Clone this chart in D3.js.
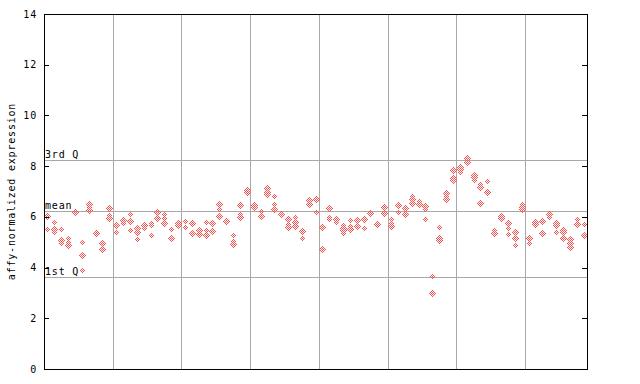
<!DOCTYPE html>
<html>
<head>
<meta charset="utf-8">
<script src="https://cdn.jsdelivr.net/npm/d3@7"></script>
<style>
  body { margin: 0; background: #fff; }
  text { font-family: "DejaVu Sans Mono", monospace; font-size: 10px; letter-spacing: 0.8px; }
</style>
</head>
<body>
<svg id="chart" width="640" height="384"></svg>
<script>
// replicate values per sample, one array per group (groups are split by the grid lines)
var group1 = [[6.05, 5.98, 5.52], [5.78, 5.52, 5.41], [5.52, 5.09, 4.98], [5.15, 5.02, 4.89], [6.21, 6.17],
  [5.0, 4.5, 3.89], [6.51, 6.38, 6.28], [5.35, 5.31], [4.96, 4.92, 4.73], [6.34, 6.07, 5.97]];
var group2 = [[5.7, 5.66, 5.39], [5.88, 5.74], [6.1, 5.84, 5.48], [5.57, 5.39, 5.13], [5.68, 5.64, 5.56],
  [5.75, 5.66, 5.29], [6.2, 5.95, 5.91], [6.1, 5.95, 5.75], [5.52, 5.18, 5.14], [5.75, 5.68, 5.64]];
var group3 = [[5.84, 5.59], [5.74, 5.4, 5.36], [5.53, 5.49, 5.33], [5.78, 5.48, 5.27], [5.79, 5.75, 5.43],
  [6.51, 6.3, 6.02], [5.89, 5.85], [5.27, 5.05, 4.94], [6.47, 6.11, 6.01], [7.1, 7.06, 6.99]];
var group4 = [[6.47, 6.38], [6.23, 6.05, 6.01], [7.12, 6.99, 6.89], [6.81, 6.49, 6.3], [6.1],
  [5.9, 5.7, 5.59], [5.98, 5.79, 5.75, 5.65], [5.44, 5.4, 5.15], [6.66, 6.49, 6.45], [6.72, 6.68, 6.18]];
var group5 = [[5.59, 4.78, 4.72], [6.34, 6.01, 5.92], [5.92, 5.88, 5.79], [5.68, 5.57, 5.47, 5.35], [5.86, 5.63, 5.52],
  [5.9, 5.86, 5.64], [5.95, 5.91, 5.55], [6.18, 6.14], [5.76, 5.72], [6.38, 6.21, 6.17]];
var group6 = [[5.9, 5.77, 5.64], [6.46, 6.42, 6.2], [6.38, 6.34, 6.11], [6.82, 6.69, 6.56], [6.64, 6.53, 6.49],
  [6.43, 6.31, 5.9], [3.67, 2.98], [5.61, 5.2, 5.16, 5.08], [6.95, 6.82, 6.69], [7.85, 7.52, 7.46]];
var group7 = [[7.98, 7.89, 7.78], [8.37, 8.33, 8.18], [7.65, 7.56, 7.47], [7.3, 7.22, 7.18, 6.53], [7.41, 6.97, 6.93],
  [5.47, 5.37, 5.33], [6.03, 5.94], [5.74, 5.55, 5.31], [5.39, 5.15, 4.89], [6.49, 6.4, 6.31]];
var group8 = [[5.2, 5.16, 4.96], [5.78, 5.7, 5.66], [5.84, 5.35], [6.1, 6.01], [5.77, 5.7, 5.66, 5.39],
  [5.48, 5.39, 5.15], [5.13, 4.96, 4.84, 4.8], [5.92, 5.7, 5.66], [5.72, 5.28]];

var refNames = ["3rd Q", "mean", "1st Q"];
var refValues = [8.23, 6.23, 3.62];
var yTicks = [0, 2, 4, 6, 8, 10, 12, 14];

var groups = [group1, group2, group3, group4, group5, group6, group7, group8];
var samples = [].concat.apply([], groups);
var points = [];
samples.forEach(function (vals, i) {
  vals.forEach(function (v) { points.push({ i: i, v: v }); });
});

var svg = d3.select("#chart");
var plotL = 44, plotR = 587, plotT = 14, plotB = 369;
var red = "#ff5050", grid = "#a8a8a8";

var x = d3.scaleLinear().domain([0, samples.length]).range([plotL, plotR]);
var y = d3.scaleLinear().domain([0, 14]).range([plotB, plotT]);

// checker pattern for the dithered diamonds
var pat = svg.append("defs").append("pattern")
  .attr("id", "chk").attr("width", 2).attr("height", 2)
  .attr("patternUnits", "userSpaceOnUse");
pat.append("rect").attr("x", 0).attr("y", 0).attr("width", 1).attr("height", 1).attr("fill", red);
pat.append("rect").attr("x", 1).attr("y", 1).attr("width", 1).attr("height", 1).attr("fill", red);

// vertical group separators
svg.append("g").selectAll("line")
  .data(d3.range(10, samples.length, 10))
  .enter().append("line")
  .attr("x1", function (d) { return Math.round(x(d)) + 0.5; })
  .attr("x2", function (d) { return Math.round(x(d)) + 0.5; })
  .attr("y1", plotT).attr("y2", plotB)
  .attr("stroke", grid).attr("stroke-width", 1);

// quartile / mean lines
svg.append("g").selectAll("line")
  .data(refValues)
  .enter().append("line")
  .attr("x1", plotL).attr("x2", plotR)
  .attr("y1", function (d) { return Math.round(y(d)) + 0.5; })
  .attr("y2", function (d) { return Math.round(y(d)) + 0.5; })
  .attr("stroke", grid).attr("stroke-width", 1);

svg.append("g").selectAll("text")
  .data(refValues)
  .enter().append("text")
  .attr("x", plotL + 1)
  .attr("y", function (d) { return Math.round(y(d)) - 2; })
  .attr("fill", "#000")
  .text(function (d, i) { return refNames[i]; });

// points
svg.append("g").attr("shape-rendering", "crispEdges").selectAll("path")
  .data(points)
  .enter().append("path")
  .attr("d", function (d) {
    var cx = Math.round(x(d.i + 0.5)) + 0.5, cy = Math.round(y(d.v)) + 0.5, r = 3.5;
    return "M" + cx + "," + (cy - r) + "L" + (cx + r) + "," + cy + "L" + cx + "," + (cy + r) + "L" + (cx - r) + "," + cy + "Z";
  })
  .attr("fill", "url(#chk)");

// frame
svg.append("rect")
  .attr("x", plotL + 0.5).attr("y", plotT + 0.5)
  .attr("width", plotR - plotL).attr("height", plotB - plotT)
  .attr("fill", "none").attr("stroke", "#000").attr("stroke-width", 1);

// ticks on both sides, pointing inward
var tickG = svg.append("g").attr("stroke", "#000");
tickG.selectAll(".tl").data(yTicks).enter().append("line")
  .attr("x1", plotL).attr("x2", plotL + 5)
  .attr("y1", function (d) { return Math.round(y(d)) + 0.5; })
  .attr("y2", function (d) { return Math.round(y(d)) + 0.5; });
tickG.selectAll(".tr").data(yTicks).enter().append("line")
  .attr("x1", plotR - 5).attr("x2", plotR)
  .attr("y1", function (d) { return Math.round(y(d)) + 0.5; })
  .attr("y2", function (d) { return Math.round(y(d)) + 0.5; });

svg.append("g").selectAll("text")
  .data(yTicks)
  .enter().append("text")
  .attr("x", 37)
  .attr("y", function (d) { return y(d); })
  .attr("dy", "0.35em")
  .attr("text-anchor", "end")
  .text(function (d) { return d; });

svg.append("text")
  .attr("transform", "translate(15," + (plotT + plotB) / 2 + ") rotate(-90)")
  .attr("text-anchor", "middle")
  .text("affy-normalized expression");
</script>
</body>
</html>
